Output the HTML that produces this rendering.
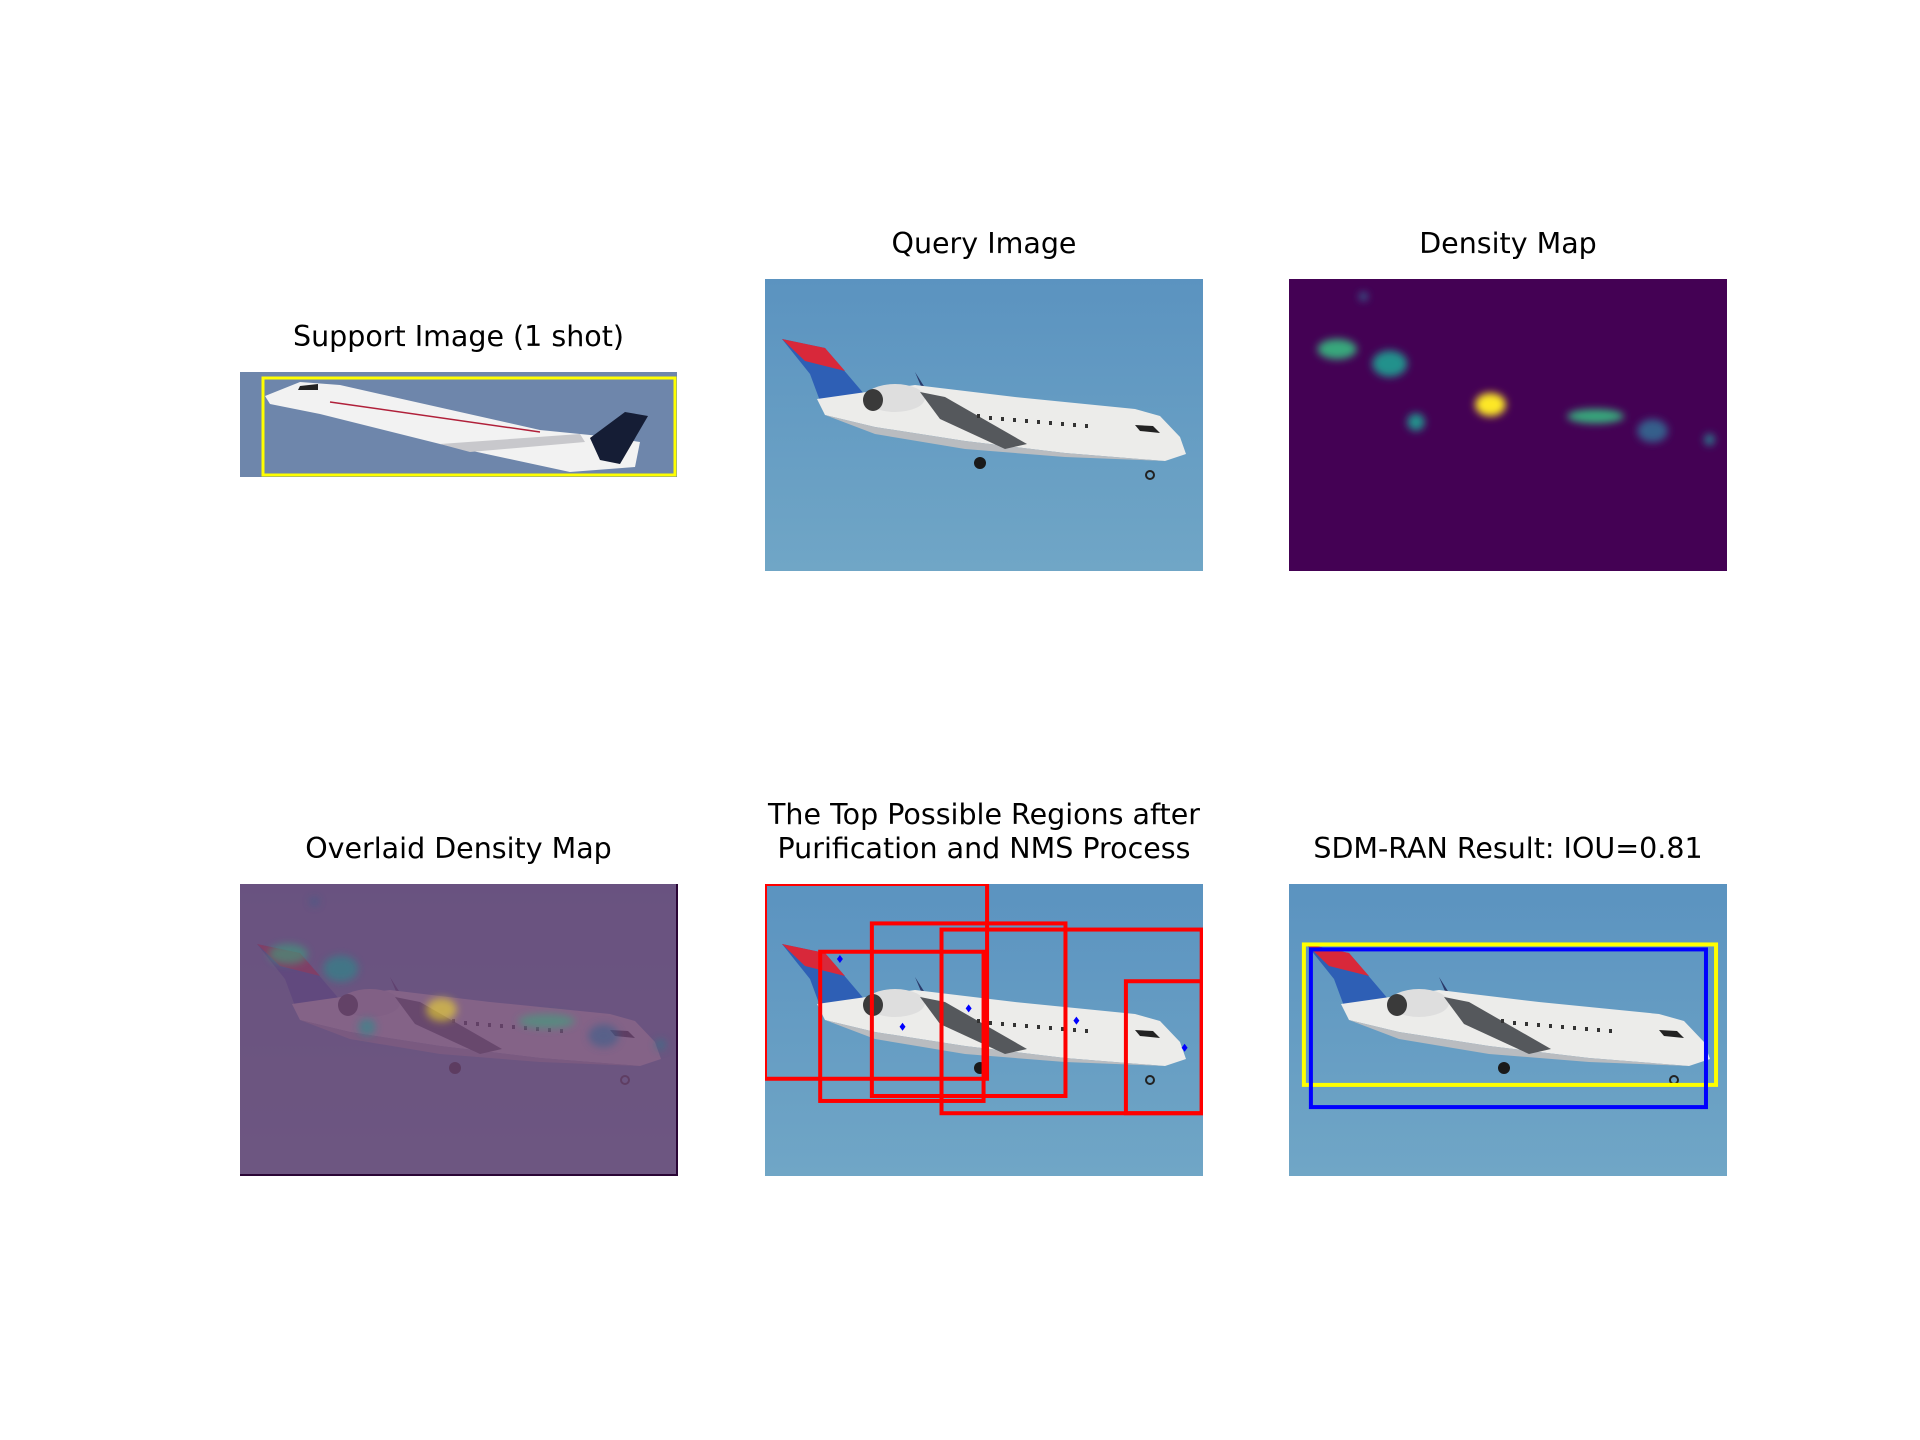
<!DOCTYPE html>
<html><head><meta charset="utf-8">
<style>
html,body{margin:0;padding:0;background:#fff;}
#fig{position:relative;width:1920px;height:1440px;background:#fff;font-family:"DejaVu Sans","Liberation Sans",sans-serif;}
.title{position:absolute;font-size:28.5px;color:#000;text-align:center;line-height:34px;white-space:nowrap;}
.panel{position:absolute;}
</style></head>
<body>
<div id="fig">
<svg width="0" height="0" style="position:absolute">
<defs>
<linearGradient id="sky" x1="0" y1="0" x2="0" y2="1"><stop offset="0" stop-color="#5b93c0"/><stop offset="1" stop-color="#70a6c6"/></linearGradient>
<g id="plane">
<rect width="438" height="292" fill="url(#sky)"/>
<path d="M17,60 L60,69 L100,116 L55,122 L45,95 Z" fill="#2e5fb5"/>
<path d="M17,60 L60,69 L80,92 L40,82 Z" fill="#d8283a"/>
<path d="M150,93 L158,112 L162,112 Z" fill="#2a3a6a"/>
<path d="M52,120 L150,106 L250,118 L370,130 L395,137 L415,158 L421,175 L400,182 L300,174 L200,162 L110,148 L60,136 Z" fill="#ececea"/>
<path d="M60,136 L110,148 L200,162 L300,174 L400,182 L300,178 L200,170 L110,155 Z" fill="#b9bcc0"/>
<ellipse cx="130" cy="119" rx="30" ry="14" fill="#dedede"/>
<ellipse cx="108" cy="121" rx="10" ry="11" fill="#3a3a3a"/>
<path d="M155,113 L180,118 L262,165 L240,170 L175,140 Z" fill="#55585c"/>
<circle cx="215" cy="184" r="6" fill="#1a1a1a"/>
<circle cx="385" cy="196" r="4" fill="none" stroke="#222" stroke-width="2"/>
<g fill="#333"><rect x="212" y="135" width="3" height="4"/><rect x="224" y="137" width="3" height="4"/><rect x="236" y="138" width="3" height="4"/><rect x="248" y="139" width="3" height="4"/><rect x="260" y="140" width="3" height="4"/><rect x="272" y="141" width="3" height="4"/><rect x="284" y="142" width="3" height="4"/><rect x="296" y="143" width="3" height="4"/><rect x="308" y="144" width="3" height="4"/><rect x="320" y="145" width="3" height="4"/></g>
<path d="M370,146 L388,147 L395,154 L375,152 Z" fill="#222"/>
</g>
</defs>
</svg>

<div class="title" style="left:240px;width:437px;top:320px;">Support Image (1 shot)</div>
<svg class="panel" style="left:240px;top:372px" width="437" height="105" viewBox="0 0 437 105">
<rect width="437" height="105" fill="#6e86ab"/>
<path d="M25,24 L60,10 L100,13 L300,58 L360,64 L400,70 L395,95 L330,100 L200,72 L80,42 L30,32 Z" fill="#f2f2f2"/>
<path d="M350,66 L385,40 L408,44 L380,92 L360,88 Z" fill="#151d35"/>
<path d="M200,72 L340,62 L345,70 L230,80 Z" fill="#c8c8cc"/>
<path d="M60,14 L78,12 L78,18 L58,18 Z" fill="#222"/>
<path d="M90,30 L300,60" stroke="#b0203a" stroke-width="1.5"/>
<rect x="23" y="6" width="412" height="97" fill="none" stroke="#ffff00" stroke-width="3"/>
</svg>

<div class="title" style="left:765px;width:438px;top:227px;">Query Image</div>
<svg class="panel" style="left:765px;top:279px" width="438" height="292" viewBox="0 0 438 292"><use href="#plane"/></svg>

<div class="title" style="left:1289px;width:438px;top:227px;">Density Map</div>
<svg class="panel" style="left:1289px;top:279px" width="438" height="292" viewBox="0 0 438 292">
<defs><filter id="bl" x="-50%" y="-50%" width="200%" height="200%"><feGaussianBlur stdDeviation="4"/></filter></defs>
<rect width="438" height="292" fill="#440154"/>
<g id="blobs" filter="url(#bl)"></g>
</svg>

<div class="title" style="left:240px;width:437px;top:832px;">Overlaid Density Map</div>
<svg class="panel" style="left:240px;top:884px" width="438" height="292" viewBox="0 0 438 292">
<use href="#plane"/>
<rect width="438" height="292" fill="#6c4472" opacity="0.82"/>
<g id="blobs2" filter="url(#bl)" opacity="0.55"></g>
<rect x="436" y="0" width="2" height="292" fill="#2a0535"/>
<rect x="0" y="290" width="438" height="2" fill="#2a0535"/>
</svg>

<div class="title" style="left:765px;width:438px;top:798px;">The Top Possible Regions after<br>Purification and NMS Process</div>
<svg class="panel" style="left:765px;top:884px" width="438" height="292" viewBox="0 0 438 292">
<use href="#plane"/>
<g id="regions"></g>
</svg>

<div class="title" style="left:1289px;width:438px;top:832px;">SDM-RAN Result: IOU=0.81</div>
<svg class="panel" style="left:1289px;top:884px" width="438" height="292" viewBox="0 0 438 292">
<use href="#plane"/>
<g id="result"></g>
</svg>
</div>
<script>
const regionBoxes=[[0,0,0.507,0.667],[0.126,0.232,0.499,0.743],[0.244,0.135,0.686,0.726],[0.403,0.156,0.997,0.785],[0.824,0.333,0.997,0.785]];
const peakPoints=[[0.171,0.257],[0.314,0.489],[0.465,0.426],[0.711,0.468],[0.958,0.561]];
const gtBox=[0.034,0.207,0.975,0.688];
const predBox=[0.050,0.224,0.952,0.764];
const blobCx=[0.17,0.11,0.23,0.29,0.46,0.70,0.83,0.96];
const blobCy=[0.06,0.24,0.29,0.49,0.43,0.47,0.52,0.55];
const blobRx=[0.01,0.045,0.04,0.02,0.035,0.065,0.035,0.012];
const blobRy=[0.015,0.035,0.045,0.03,0.04,0.025,0.04,0.02];
const blobI=[0.3,0.6,0.5,0.5,1.0,0.6,0.3,0.4];
const W=438,H=292,NS='http://www.w3.org/2000/svg';
const sx=v=>v*W, sy=v=>v*H;
function viridis(t){const c=[[68,1,84],[59,82,139],[33,145,140],[94,201,98],[253,231,37]];const p=t*4,i=Math.min(3,Math.floor(p)),f=p-i;const a=c[i],b=c[i+1];return `rgb(${a.map((v,k)=>Math.round(v+(b[k]-v)*f)).join(',')})`;}
['blobs','blobs2'].forEach(id=>{const g=document.getElementById(id);
blobCx.forEach((cx,i)=>{const e=document.createElementNS(NS,'ellipse');


e.setAttribute('cx',sx(cx));e.setAttribute('cy',sy(blobCy[i]));e.setAttribute('rx',sx(blobRx[i]));e.setAttribute('ry',sy(blobRy[i]));e.setAttribute('fill',viridis(blobI[i]));g.appendChild(e);});});
function box(g,b,col,w,name){const r=document.createElementNS(NS,'rect');


r.setAttribute('x',sx(b[0]));r.setAttribute('y',sy(b[1]));r.setAttribute('width',sx(b[2]-b[0]));r.setAttribute('height',sy(b[3]-b[1]));r.setAttribute('fill','none');r.setAttribute('stroke',col);r.setAttribute('stroke-width',w);g.appendChild(r);}
const rg=document.getElementById('regions');
regionBoxes.forEach(b=>box(rg,b,'#ff0000',4,'region-box'));
peakPoints.forEach(p=>{const d=document.createElementNS(NS,'path');


const x=sx(p[0]),y=sy(p[1]);d.setAttribute('d',`M${x},${y-4}L${x+3},${y}L${x},${y+4}L${x-3},${y}Z`);d.setAttribute('fill','#0000ff');rg.appendChild(d);});
const res=document.getElementById('result');
box(res,gtBox,'#ffff00',4,'ground-truth-box');
box(res,predBox,'#0000ff',4,'predicted-box');
</script>
</body></html>
